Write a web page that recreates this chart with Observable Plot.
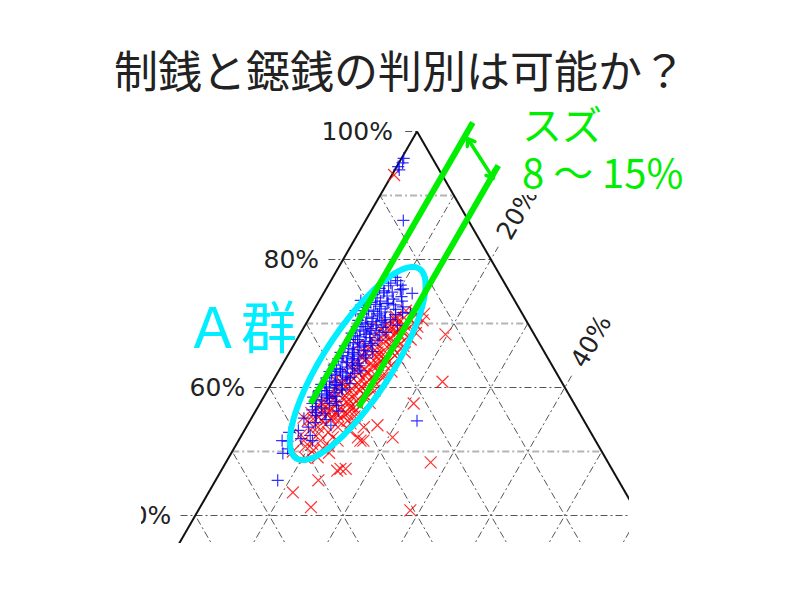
<!DOCTYPE html>
<html><head><meta charset="utf-8">
<script src="https://cdn.jsdelivr.net/npm/d3@7"></script>
<script src="https://cdn.jsdelivr.net/npm/@observablehq/plot@0.6"></script>
<style>
body{margin:0;background:#fff;width:800px;height:600px;overflow:hidden;position:relative;font-family:"Noto Sans CJK JP",sans-serif}
#chart{position:absolute;left:0;top:0}
#title{position:absolute;left:0;top:39px;width:800px;text-align:center;font-size:44px;line-height:60px;color:#222;white-space:nowrap}
#mask{position:absolute;left:506px;top:99px;width:294px;height:96px;background:#fff}
.suzu{position:absolute;left:522px;color:#00ee00;font-size:40px;line-height:44px;height:44px;white-space:nowrap}
#agun{position:absolute;left:185px;top:289px;font-size:56px;line-height:70px;color:#00eeff;white-space:nowrap}
</style></head><body>
<div id="chart"></div>
<div id="title">制銭と鐚銭の判別は可能か？</div>
<div id="mask"></div>
<div class="suzu" style="top:101px">スズ</div>
<div class="suzu" style="top:149px">8 ～ 15%</div>
<div id="agun">Ａ群</div>
<script>
// Ternary data: [T (top vertex %), R (right vertex %)]
const blueTR = [
  [95.8,0.3],[95.1,0.5],[94.5,0.2],[94.0,0.6],[86.1,5.1],
  [77.2,8.5],[76.3,8.3],[76.7,9.0],[75.9,8.2],[74.7,12.0],[71.6,13.3],[71.7,12.2],[74.8,8.1],[73.1,9.4],[73.6,5.6],[72.0,5.7],[69.7,12.5],[73.3,7.1],[72.8,6.4],[75.4,10.4],[74.2,10.8],
  [54.8,22.6],[45.5,8.4],[49.7,7.0],[50.4,7.3],[51.7,5.9],[51.6,6.7],[51.7,10.0],[52.5,9.3],[53.3,7.3],[55.2,7.1],[54.1,11.3],[53.0,6.2],[52.0,8.3],
  [75.1,8.0],[74.9,9.2],[75.3,10.1],
  [74.0,7.6],[74.3,8.8],[73.8,9.9],
  [73.0,7.9],[72.7,8.6],[73.2,9.5],[72.9,10.4],
  [72.1,7.4],[71.9,8.2],[72.3,9.0],[71.8,9.8],[72.2,11.0],
  [71.0,7.7],[70.8,8.5],[71.2,9.3],[70.9,10.2],
  [70.1,7.5],[69.9,8.1],[70.3,8.9],[69.8,9.6],[70.2,10.6],
  [69.0,7.8],[68.8,8.4],[69.2,9.2],[68.9,10.0],
  [68.1,7.6],[67.9,8.3],[68.3,9.0],[67.8,9.7],[68.2,10.8],
  [67.0,7.9],[66.8,8.6],[67.2,9.4],[66.9,10.3],
  [66.1,7.7],[65.9,8.4],[66.3,9.1],[65.8,9.9],
  [65.0,7.5],[64.8,8.2],[65.2,8.9],[64.9,9.6],[65.1,10.5],
  [64.1,7.8],[63.9,8.5],[64.3,9.3],[63.8,10.1],
  [63.0,7.6],[62.8,8.2],[63.2,9.0],[62.9,9.8],
  [62.1,7.4],[61.9,8.0],[62.3,8.8],[61.8,9.5],[62.2,10.4],
  [61.0,7.7],[60.8,8.5],[61.2,9.3],
  [60.1,7.5],[59.9,8.2],[60.3,9.0],[59.8,9.9],
  [59.0,7.6],[58.8,8.4],[59.2,9.2],
  [58.1,7.3],[57.9,8.1],[58.3,9.0],[57.8,10.2],
  [57.0,7.8],[56.8,8.7],[57.2,10.5],
  [56.1,8.2],[55.9,9.6],[56.3,11.2],
  [76.0,9.8],[75.5,7.2],[74.5,6.8],[73.5,8.3],[72.5,6.6],[71.5,6.9],[70.5,6.8],[69.5,7.1],[68.5,6.9],[67.5,7.2],
  [66.5,7.0],[65.5,6.9],[64.5,7.1],[63.5,7.0],[62.5,6.9],[61.5,7.0],[60.5,6.8],[59.5,7.0],[58.5,6.7],[57.5,7.1],
  [73.5,11.2],[72.6,11.8],[71.4,11.4],[70.6,11.1],[69.4,10.7],[68.6,11.5],[67.4,11.0],[66.6,10.6],[65.6,11.2],[64.6,10.8],
  [63.4,10.5],[62.6,11.1],[61.6,10.2],[60.6,10.6],[59.6,10.1],[58.6,9.7],
  [71.5,8.9],[70.5,9.9],[69.5,8.6],[68.5,9.4],[67.5,8.2],[66.5,9.6],[65.5,8.5],[64.5,9.0],[63.5,9.5],[62.5,8.4],
  [61.5,9.8],[60.5,8.8],[59.5,8.0],[58.5,8.6],[57.5,9.4],[56.5,7.6],[55.6,8.6],[55.0,10.2],[54.5,9.0],[53.8,8.4]
];
const redTR = [
  [93.2,0.3],[68.3,19.7],[60.9,23.0],[57.5,20.8],[52.2,20.6],[48.3,27.7],[40.8,28.7],[54.1,17.6],[51.7,16.9],[47.3,16.7],[47.3,16.0],[45.5,13.9],[43.6,11.4],[41.3,15.0],
  [51.7,11.1],[50.9,12.6],[53.8,12.4],[54.4,13.8],[52.2,15.9],[55.3,11.0],[53.8,9.7],[54.8,7.8],[55.9,12.6],[53.8,15.9],[55.3,7.0],[56.4,10.1],[54.8,13.2],[51.7,16.5],[51.7,8.8],[50.2,10.9],[51.7,13.4],[49.1,12.0],[47.0,15.7],[53.0,11.5],[52.6,8.0],[50.8,9.5],
  [70.8,11.7],[69.4,11.4],[68.6,13.1],
  [72.0,12.5],[71.8,13.8],
  [71.1,11.6],[70.9,12.8],[71.3,14.2],
  [70.0,11.0],[70.2,12.2],[69.8,13.4],[70.1,14.6],
  [69.1,10.6],[68.9,11.8],[69.2,12.9],[68.8,14.0],
  [68.0,10.2],[68.2,11.4],[67.8,12.5],[68.1,13.6],[67.9,14.8],
  [67.1,10.8],[66.9,12.0],[67.2,13.1],[66.8,14.3],
  [66.0,10.4],[66.2,11.5],[65.8,12.6],[66.1,13.7],
  [65.1,10.0],[64.9,11.1],[65.2,12.2],[64.8,13.3],[65.0,14.5],
  [64.0,9.7],[64.2,10.8],[63.8,11.9],[64.1,13.0],[63.9,14.1],
  [63.1,10.3],[62.9,11.4],[63.2,12.5],[62.8,13.6],
  [62.0,9.9],[62.2,11.0],[61.8,12.1],[62.1,13.2],[61.9,14.4],
  [61.1,9.5],[60.9,10.6],[61.2,11.7],[60.8,12.8],
  [60.0,9.1],[60.2,10.2],[59.8,11.3],[60.1,12.4],[59.9,13.6],
  [59.1,8.8],[58.9,9.9],[59.2,11.0],[58.8,12.1],[59.0,13.2],
  [58.0,8.4],[58.2,9.5],[57.8,10.6],[58.1,11.7],[57.9,12.9],
  [57.1,8.0],[56.9,9.1],[57.2,10.2],[56.8,11.3],[57.0,12.5],[57.1,13.8],
  [56.0,7.7],[56.2,8.8],[55.8,9.9],[56.1,11.0],[55.9,12.2],
  [55.1,8.4],[54.9,9.6],[55.2,10.7],[54.8,12.0],
  [69.4,9.0],[66.6,8.7],[63.5,8.9],[61.3,8.2],
  [71.5,15.2],[70.5,15.5],[69.5,15.3],[68.5,15.6],[67.5,15.4],[66.5,14.9],[65.5,15.6],[64.5,15.2],[63.5,14.8],[62.5,15.3],
  [61.5,14.6],[60.5,14.3],[59.5,14.5],[58.5,14.0],[57.6,14.8],[56.5,13.5],[55.5,13.8],
  [70.5,11.8],[69.5,12.4],[68.5,12.9],[67.5,11.7],[66.5,13.2],[65.5,11.9],[64.5,12.6],[63.5,13.0],[62.5,12.0],[61.5,13.1],
  [60.5,11.9],[59.5,12.6],[58.5,11.2],[57.5,12.0],[56.5,12.9],[55.6,11.5],
  [66.5,10.0],[64.6,10.3],[62.6,10.5],[60.6,9.6],[58.7,9.1],[57.4,8.6],[56.4,9.4],[55.4,9.0],[54.2,10.5],[53.4,8.9],
  [52.8,10.3],[52.2,12.5],[51.2,10.2],[50.5,12.0],[49.8,13.2],[50.0,8.2],[53.2,14.3],[49.0,10.4]
];
const leftTicks = [100, 80, 60, 40];
const rightTicks = [20, 40];
const gridLevels = [10, 20, 30, 40, 50, 60, 70, 80, 90];
// annotations (ternary coords)
const tinLines = [ {t1:101.4, t2:57.5, r:6.85}, {t1:94.7, t2:56.9, r:13.65} ];
const arrowEnds = [[98.9, 7.4], [92.66, 14.0]];
const ellipseSpec = {t:63.75, r:10.1, a:15.3, b:4.6, angle:57};

const S = Math.sqrt(3) / 2;
const cx = (t, r) => r + t / 2;
const cy = (t) => t * S;

const darkSegs = [], lightSegs = [];
for (const v of gridLevels) {
  const lab = v % 20 === 0;
  (lab ? darkSegs : lightSegs).push({x1: cx(v, 0) - (lab ? 2 : 0), y1: cy(v), x2: cx(v, 100 - v), y2: cy(v)});
  const te = 100 - v + (lab ? 2 : 0);
  darkSegs.push({x1: cx(0, v), y1: 0, x2: cx(te, v), y2: cy(te)});
  darkSegs.push({x1: cx(0, 100 - v), y1: 0, x2: cx(100 - v, 0), y2: cy(100 - v)});
}
darkSegs.push({x1: cx(100, 0) - 1.6, y1: cy(100), x2: cx(100, 0), y2: cy(100)});
const edges = [
  {x1: cx(0, 0), y1: 0, x2: cx(100, 0), y2: cy(100)},
  {x1: cx(100, 0), y1: cy(100), x2: cx(0, 100), y2: 0}
];
const es = ellipseSpec, th = es.angle * Math.PI / 180;
const ecx = cx(es.t, es.r), ecy = cy(es.t);
const ellipsePts = d3.range(0, 360, 3).map(deg => {
  const u = deg * Math.PI / 180;
  return {x: ecx + es.a * Math.cos(th) * Math.cos(u) - es.b * Math.sin(th) * Math.sin(u),
          y: ecy + es.a * Math.sin(th) * Math.cos(u) + es.b * Math.cos(th) * Math.sin(u)};
});
const arrowMid = {x: (cx(...arrowEnds[0]) + cx(...arrowEnds[1])) / 2, y: (cy(arrowEnds[0][0]) + cy(arrowEnds[1][0])) / 2};

const pxPerUnit = 7.39, mLeft = 141, mRight = 171, mTop = 110, mBottom = 57;
const X0 = 47, Y0 = 771; // pixel of ternary origin
const xdom = [(mLeft - X0) / pxPerUnit, (800 - mRight - X0) / pxPerUnit];
const ydom = [(Y0 - (600 - mBottom)) / pxPerUnit, (Y0 - mTop) / pxPerUnit];
const dash = "7,3,2,3";
const tickFont = "DejaVu Sans, sans-serif";

const chart = Plot.plot({
  width: 800, height: 600,
  marginLeft: mLeft, marginRight: mRight, marginTop: mTop, marginBottom: mBottom,
  x: {domain: xdom, axis: null},
  y: {domain: ydom, axis: null},
  style: {background: "transparent"},
  marks: [
    Plot.link(lightSegs, {x1: "x1", y1: "y1", x2: "x2", y2: "y2", stroke: "#b4b4b4", strokeWidth: 2, strokeDasharray: dash, clip: true}),
    Plot.link(darkSegs, {x1: "x1", y1: "y1", x2: "x2", y2: "y2", stroke: "#555", strokeWidth: 1, strokeDasharray: dash, clip: true}),
    Plot.link(edges, {x1: "x1", y1: "y1", x2: "x2", y2: "y2", stroke: "#111", strokeWidth: 2, clip: true}),
    Plot.dot(redTR, {x: d => cx(d[0], d[1]), y: d => cy(d[0]), symbol: "times", r: 5.5, stroke: "#ff0000", strokeOpacity: 0.8, strokeWidth: 1.2, clip: true}),
    Plot.dot(blueTR, {x: d => cx(d[0], d[1]), y: d => cy(d[0]), symbol: "plus", r: 4, stroke: "#0000ff", strokeOpacity: 0.8, strokeWidth: 1.2, clip: true}),
    Plot.text(leftTicks, {x: t => cx(t, 0), y: t => cy(t), text: t => t + "%", textAnchor: "end", dx: -24, fontSize: 25, fontFamily: tickFont, fill: "#222", clip: true}),
    Plot.text(rightTicks, {x: r => cx(107.2 - r, r), y: r => cy(107.2 - r), text: r => r + "%", rotate: -60, fontSize: 25, fontFamily: tickFont, fill: "#222", clip: true}),
    Plot.line(ellipsePts, {x: "x", y: "y", curve: "linear-closed", stroke: "#00eeff", strokeWidth: 6}),
    Plot.link(tinLines, {x1: d => cx(d.t1, d.r), y1: d => cy(d.t1), x2: d => cx(d.t2, d.r), y2: d => cy(d.t2), stroke: "#00ee00", strokeWidth: 6, strokeLinecap: "butt"}),
    Plot.arrow(arrowEnds, {x1: () => arrowMid.x, y1: () => arrowMid.y, x2: d => cx(d[0], d[1]), y2: d => cy(d[0]), stroke: "#00ee00", strokeWidth: 3.5, headLength: 11, headAngle: 70})
  ]
});
document.getElementById("chart").appendChild(chart);
</script>
</body></html>
